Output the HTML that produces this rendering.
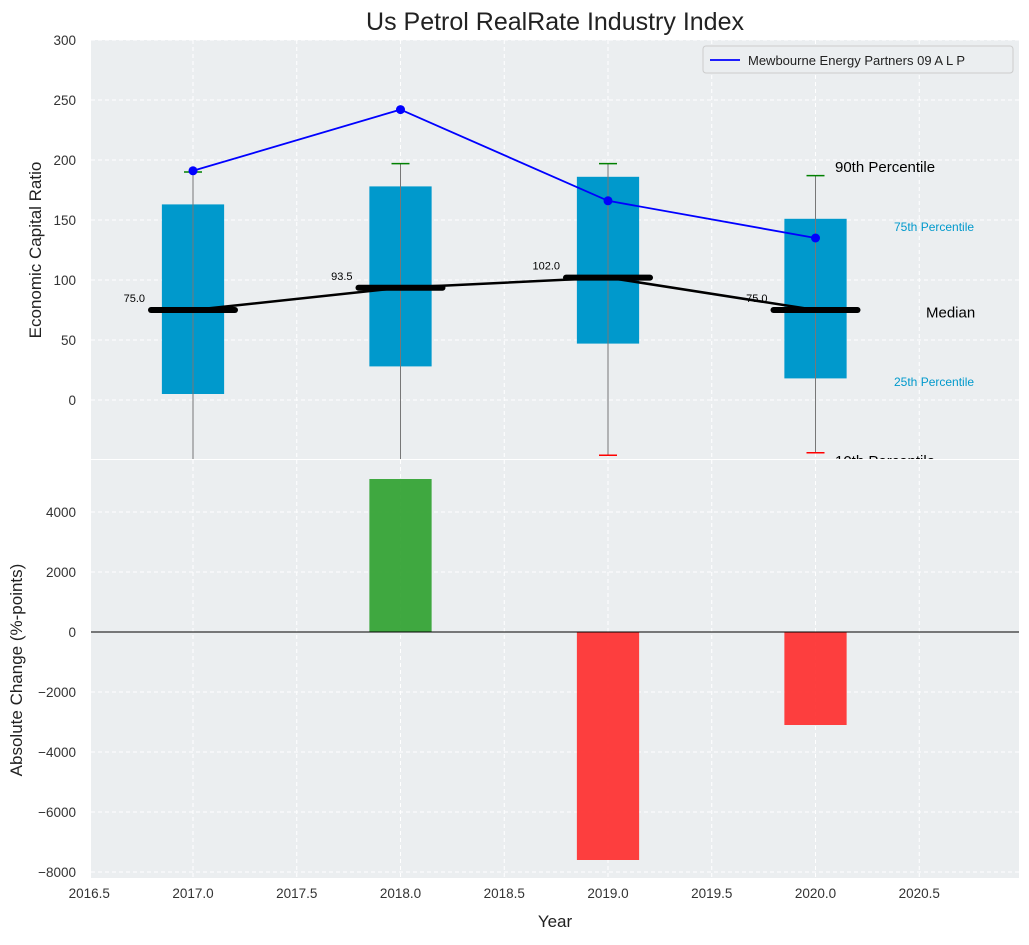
<!DOCTYPE html>
<html><head><meta charset="utf-8"><style>
body{margin:0;background:#fff;font-family:"Liberation Sans",sans-serif}
</style></head><body>
<svg id="c" width="1029" height="940" xmlns="http://www.w3.org/2000/svg" font-family="Liberation Sans, sans-serif"></svg>
<script>
const years=[2017,2018,2019,2020];
const p10=[-80,-80,-46,-44];
const p25=[5,28,47,18];
const med=[75,93.5,102,75];
const p75=[163,178,186,151];
const p90=[190,197,197,187];
const lineVals=[191,242,166,135];
const changeYears=[2018,2019,2020];
const changeVals=[5100,-7600,-3100];
const xTicks=[2016.5,2017,2017.5,2018,2018.5,2019,2019.5,2020,2020.5];
const yTopTicks=[0,50,100,150,200,250,300];
const yBotTicks=[-8000,-6000,-4000,-2000,0,2000,4000];

const NS='http://www.w3.org/2000/svg';
const svg=document.getElementById('c');
function el(t,a,p){const e=document.createElementNS(NS,t);for(const k in a)e.setAttribute(k,a[k]);(p||svg).appendChild(e);return e;}
const L=91,R=1019,T1=40,B1=459,T2=460,B2=878;
const X=v=>193+(v-2017)*207.5;
const Y1=v=>400-v*1.2;
const Y2=v=>632-v*0.03;
const defs=el('defs',{});
const c1=el('clipPath',{id:'c1'},defs);el('rect',{x:L,y:T1,width:R-L,height:B1-T1},c1);
const c2=el('clipPath',{id:'c2'},defs);el('rect',{x:L,y:T2,width:R-L,height:B2-T2},c2);

let bg=el('rect',{x:L,y:T1,width:R-L,height:B1-T1,fill:'#ebeef0'});

bg=el('rect',{x:L,y:T2,width:R-L,height:B2-T2,fill:'#ebeef0'});


xTicks.forEach(v=>{const x=X(v);
 el('line',{x1:x,x2:x,y1:T1,y2:B1,stroke:'#fff','stroke-dasharray':'4,3'});
 el('line',{x1:x,x2:x,y1:T2,y2:B2,stroke:'#fff','stroke-dasharray':'4,3'});
 const t=el('text',{x:x,y:B2+20,'text-anchor':'middle','font-size':13.5,fill:'#333'});t.textContent=v.toFixed(1);
 });
yTopTicks.forEach(v=>{const y=Y1(v);
 el('line',{x1:L,x2:R,y1:y,y2:y,stroke:'#fff','stroke-dasharray':'4,3'});
 const t=el('text',{x:76,y:y+5,'text-anchor':'end','font-size':13.5,fill:'#333'});t.textContent=v;
 });
yBotTicks.forEach(v=>{const y=Y2(v);
 el('line',{x1:L,x2:R,y1:y,y2:y,stroke:'#fff','stroke-dasharray':'4,3'});
 const t=el('text',{x:76,y:y+5,'text-anchor':'end','font-size':13.5,fill:'#333'});t.textContent=(v<0?'\u2212'+(-v):v);
 });

const g1=el('g',{'clip-path':'url(#c1)'});
years.forEach((yr,i)=>{const x=X(yr),w=0.3*207.5;
 let b=el('rect',{x:x-w/2,y:Y1(p75[i]),width:w,height:Y1(p25[i])-Y1(p75[i]),fill:'#0099cc'},g1);
 
 el('line',{x1:x,x2:x,y1:Y1(p90[i]),y2:Y1(p10[i]),stroke:'#777','stroke-width':1},g1);
 el('line',{x1:x-9,x2:x+9,y1:Y1(p90[i]),y2:Y1(p90[i]),stroke:'green','stroke-width':1.5},g1);
 el('line',{x1:x-9,x2:x+9,y1:Y1(p10[i]),y2:Y1(p10[i]),stroke:'red','stroke-width':1.5},g1);
});
let ml=el('polyline',{points:years.map((y,i)=>X(y)+','+Y1(med[i])).join(' '),fill:'none',stroke:'#000','stroke-width':2.5},g1);

years.forEach((yr,i)=>{const x=X(yr);
 let m=el('line',{x1:x-42,x2:x+42,y1:Y1(med[i]),y2:Y1(med[i]),stroke:'#000','stroke-width':6,'stroke-linecap':'round'},g1);
 
 const t=el('text',{x:x-48,y:Y1(med[i])-8,'text-anchor':'end','font-size':11,fill:'#000'},g1);t.textContent=med[i].toFixed(1);
 });
let pl=el('polyline',{points:years.map((y,i)=>X(y)+','+Y1(lineVals[i])).join(' '),fill:'none',stroke:'blue','stroke-width':1.8},g1);

years.forEach((yr,i)=>{let c=el('circle',{cx:X(yr),cy:Y1(lineVals[i]),r:4.5,fill:'blue'},g1);
 });
const ann=[['90th Percentile',835,p90[3]+7,15,'#000'],['75th Percentile',894,p75[3]-6,12,'#0099cc'],['Median',926,med[3]-2,15,'#000'],['25th Percentile',894,p25[3]-2,12,'#0099cc'],['10th Percentile',835,p10[3]-7,15,'#000']];
ann.forEach(a=>{const t=el('text',{x:a[1],y:Y1(a[2])+5,'font-size':a[3],fill:a[4]},g1);t.textContent=a[0];
 });
const lg=el('g',{});
el('rect',{x:703,y:46,width:310,height:27,fill:'#ebeef0',stroke:'#ccc',rx:3},lg);
el('line',{x1:710,x2:740,y1:60,y2:60,stroke:'blue','stroke-width':1.8},lg);
let lt=el('text',{x:748,y:65,'font-size':13,fill:'#222'},lg);lt.textContent='Mewbourne Energy Partners 09 A L P';

const g2=el('g',{'clip-path':'url(#c2)'});
changeYears.forEach((yr,i)=>{const x=X(yr),w=0.3*207.5,v=changeVals[i];
 let b=el('rect',{x:x-w/2,y:Math.min(Y2(v),Y2(0)),width:w,height:Math.abs(Y2(v)-Y2(0)),fill:v>=0?'#2ca02c':'#ff2a2a','fill-opacity':0.9},g2);
 });
el('line',{x1:L,x2:R,y1:Y2(0),y2:Y2(0),stroke:'#000','stroke-width':1},g2);

let t=el('text',{x:555,y:30,'text-anchor':'middle','font-size':25,fill:'#222'});t.textContent='Us Petrol RealRate Industry Index';

t=el('text',{x:555,y:927,'text-anchor':'middle','font-size':17,fill:'#222'});t.textContent='Year';

t=el('text',{x:0,y:0,'text-anchor':'middle','font-size':17,fill:'#222',transform:'translate(41,250) rotate(-90)'});t.textContent='Economic Capital Ratio';

t=el('text',{x:0,y:0,'text-anchor':'middle','font-size':17,fill:'#222',transform:'translate(22,670) rotate(-90)'});t.textContent='Absolute Change (%-points)';

</script>
</body></html>
